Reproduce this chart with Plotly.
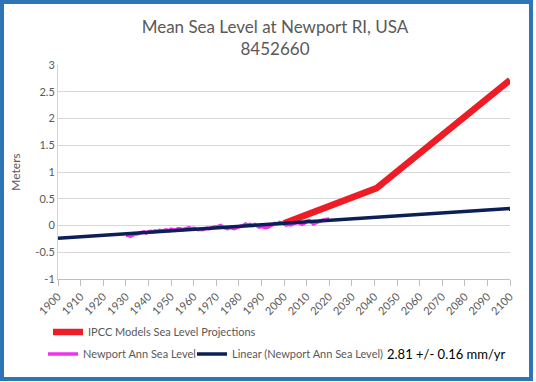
import plotly.graph_objects as go

obs_years = list(range(1930, 2021))
obs_vals = [-0.19, -0.18, -0.20, -0.17, -0.16, -0.16, -0.14, -0.13, -0.12, -0.14,
            -0.12, -0.11, -0.12, -0.10, -0.11, -0.09, -0.10, -0.09, -0.08, -0.10,
            -0.07, -0.08, -0.09, -0.06, -0.06, -0.08, -0.07, -0.05, -0.04, -0.06,
            -0.05, -0.06, -0.08, -0.07, -0.08, -0.06, -0.05, -0.06, -0.04, -0.03,
            -0.03, -0.01, 0.00, -0.03, -0.05, -0.06, -0.04, -0.05, -0.06, -0.04,
            -0.03, -0.02, 0.00, 0.03, 0.01, 0.02, 0.00, 0.02, -0.01, -0.03,
            -0.02, -0.03, -0.04, -0.03, -0.01, 0.02, 0.04, 0.03, 0.06, 0.05,
            0.03, 0.01, 0.02, 0.01, 0.03, 0.05, 0.06, 0.04, 0.02, 0.04,
            0.08, 0.09, 0.07, 0.03, 0.05, 0.06, 0.08, 0.10, 0.11, 0.12, 0.12]

ipcc_years = [2000, 2041, 2100]
ipcc_vals = [0.04, 0.70, 2.72]

trend_years = [1900, 2100]
trend_vals = [-0.24, 0.32]

x_ticks = list(range(1900, 2101, 10))
y_ticks = [-1, -0.5, 0, 0.5, 1, 1.5, 2, 2.5, 3]

FONT = "Lato"
GRAY = "#595959"

fig = go.Figure()
fig.add_trace(go.Scatter(x=ipcc_years, y=ipcc_vals, mode="lines",
                         line=dict(color="#EE1C25", width=6.5),
                         name="IPCC Models Sea Level Projections", legend="legend"))
fig.add_trace(go.Scatter(x=obs_years, y=obs_vals, mode="lines",
                         line=dict(color="#EE33EE", width=3.5),
                         name="Newport Ann Sea Level", legend="legend2"))
fig.add_trace(go.Scatter(x=trend_years, y=trend_vals, mode="lines",
                         line=dict(color="#0B2058", width=3.5),
                         name="Linear (Newport Ann Sea Level)", legend="legend3"))

L, R, T, B = 58, 26, 65, 103
W, H = 536, 382
pw, ph = W - L - R, H - T - B

def px(x):
    return (x - L) / pw

def py(y):
    return (H - B - y) / ph

leg_common = dict(xanchor="left", yanchor="middle", orientation="h",
                  font=dict(size=11, color=GRAY), bgcolor="rgba(0,0,0,0)")

fig.update_layout(
    width=W, height=H,
    margin=dict(l=L, r=R, t=T, b=B),
    paper_bgcolor="white", plot_bgcolor="white",
    font=dict(family=FONT, color=GRAY, size=11),
    title=dict(text="Mean Sea Level at Newport RI, USA<br>8452660",
               x=275 / W, xanchor="center", y=1 - 33 / H, yanchor="top",
               font=dict(size=17, color=GRAY, family=FONT)),
    xaxis=dict(range=[1900, 2100], tickvals=x_ticks, tickangle=-45,
               showgrid=False, showline=True, linecolor="#BFBFBF", linewidth=1,
               ticks="outside", ticklen=6, tickcolor="#BFBFBF",
               tickfont=dict(size=11, color=GRAY), zeroline=False),
    yaxis=dict(range=[-1, 3], tickvals=y_ticks, ticktext=[str(v) for v in y_ticks],
               showgrid=True, gridcolor="#D9D9D9", gridwidth=1,
               showline=True, linecolor="#BDD7EE", zeroline=False,
               tickfont=dict(size=11, color=GRAY),
               title=dict(text="Meters", font=dict(size=12, color=GRAY), standoff=12)),
    legend=dict(x=px(48), y=py(332), **leg_common),
    legend2=dict(x=px(43), y=py(354), **leg_common),
    legend3=dict(x=px(192), y=py(354), **leg_common),
    showlegend=True,
)

fig.add_annotation(text="2.81 +/- 0.16 mm/yr", xref="paper", yref="paper",
                   x=px(385), y=py(354), xanchor="left", yanchor="middle",
                   showarrow=False, font=dict(size=13, color="black", family=FONT))

fig.add_shape(type="rect", xref="paper", yref="paper",
              x0=px(2), x1=px(531), y0=py(2), y1=py(379),
              line=dict(color="#2E75B6", width=4), fillcolor="rgba(0,0,0,0)",
              layer="above")

fig.write_html("out.html", config={"displayModeBar": False},
               post_script="document.body.style.margin='0px';")
